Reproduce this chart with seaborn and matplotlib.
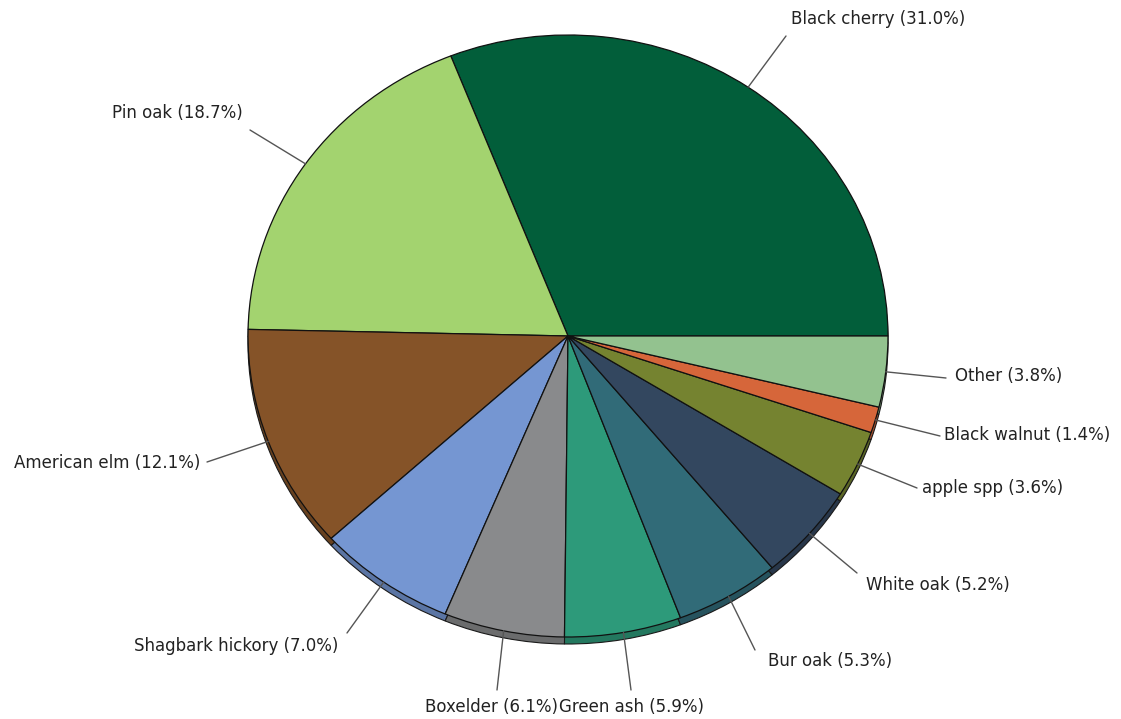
import numpy as np
import matplotlib
matplotlib.use("Agg")
import matplotlib.pyplot as plt
import matplotlib.colors as mcolors
import seaborn as sns

sns.set_theme(style="white")
plt.rcParams['font.family'] = ['DejaVu Sans']

# ---------- data ----------
species = ['Black cherry', 'Pin oak', 'American elm', 'Shagbark hickory', 'Boxelder',
           'Green ash', 'Bur oak', 'White oak', 'apple spp', 'Black walnut', 'Other']
share = [31.0, 18.7, 12.1, 7.0, 6.1, 5.9, 5.3, 5.2, 3.6, 1.4, 3.8]
colors = ['#025e3a', '#a3d36f', '#855328', '#7596d2', '#898a8c', '#2d9a7a',
          '#316b78', '#33475f', '#758330', '#d6663a', '#93c28f']

# label layout in pixel coords: text x, text y, alignment, leader end x, leader end y
layout = [
    (791, 19, 'left', 786, 36),
    (243, 113, 'right', 250, 130),
    (200, 463, 'right', 207, 462),
    (338, 646, 'right', 347, 633),
    (558, 707, 'right', 497, 690),
    (559, 707, 'left', 631, 690),
    (768, 661, 'left', 755, 650),
    (866, 585, 'left', 857, 573),
    (922, 488, 'left', 917, 488),
    (944, 435, 'left', 940, 436),
    (955, 376, 'left', 946, 378),
]

W, H = 1121, 719
cx, cy = 568, 336          # pie centre (pixels, from top)
rx, ry = 320, 301          # horizontal / vertical radius in pixels
depth = 7                  # thickness of the pie side
k = rx / ry                # y squash factor (data units per pixel in y)


def to_data(px, py):
    return px, (H - py) * k


fig = plt.figure(figsize=(W / 100, H / 100), dpi=100)
ax = fig.add_axes([0, 0, 1, 1])

centre = to_data(cx, cy)
side_centre = to_data(cx, cy + depth)
dark = [tuple(np.array(mcolors.to_rgb(c)) * 0.78) for c in colors]

# side of the pie (a darker copy a few pixels lower)
ax.pie(share, colors=dark, startangle=0, counterclock=True, radius=rx,
       center=side_centre, wedgeprops=dict(edgecolor='#1a1a1a', linewidth=0.8))
# top surface
ax.pie(share, colors=colors, startangle=0, counterclock=True, radius=rx,
       center=centre, wedgeprops=dict(edgecolor='#111111', linewidth=0.9))

ax.set_aspect('auto')
ax.set_xlim(0, W)
ax.set_ylim(0, H * k)
ax.axis('off')

# labels with leader lines
frac = np.array(share) / np.sum(share)
mids = (np.cumsum(frac) - frac / 2) * 2 * np.pi
for name, val, ang, (tx, ty, ha, lx, ly) in zip(species, share, mids, layout):
    ex = cx + rx * np.cos(ang)
    ey = cy - ry * np.sin(ang)
    x0, y0 = to_data(ex, ey)
    x1, y1 = to_data(lx, ly)
    ax.plot([x0, x1], [y0, y1], color='#555555', lw=1.0)
    tx_d, ty_d = to_data(tx, ty)
    ax.text(tx_d, ty_d, f'{name} ({val:.1f}%)', ha=ha, va='center',
            fontsize=12, color='#222222')

fig.savefig('out.png', dpi=100)
